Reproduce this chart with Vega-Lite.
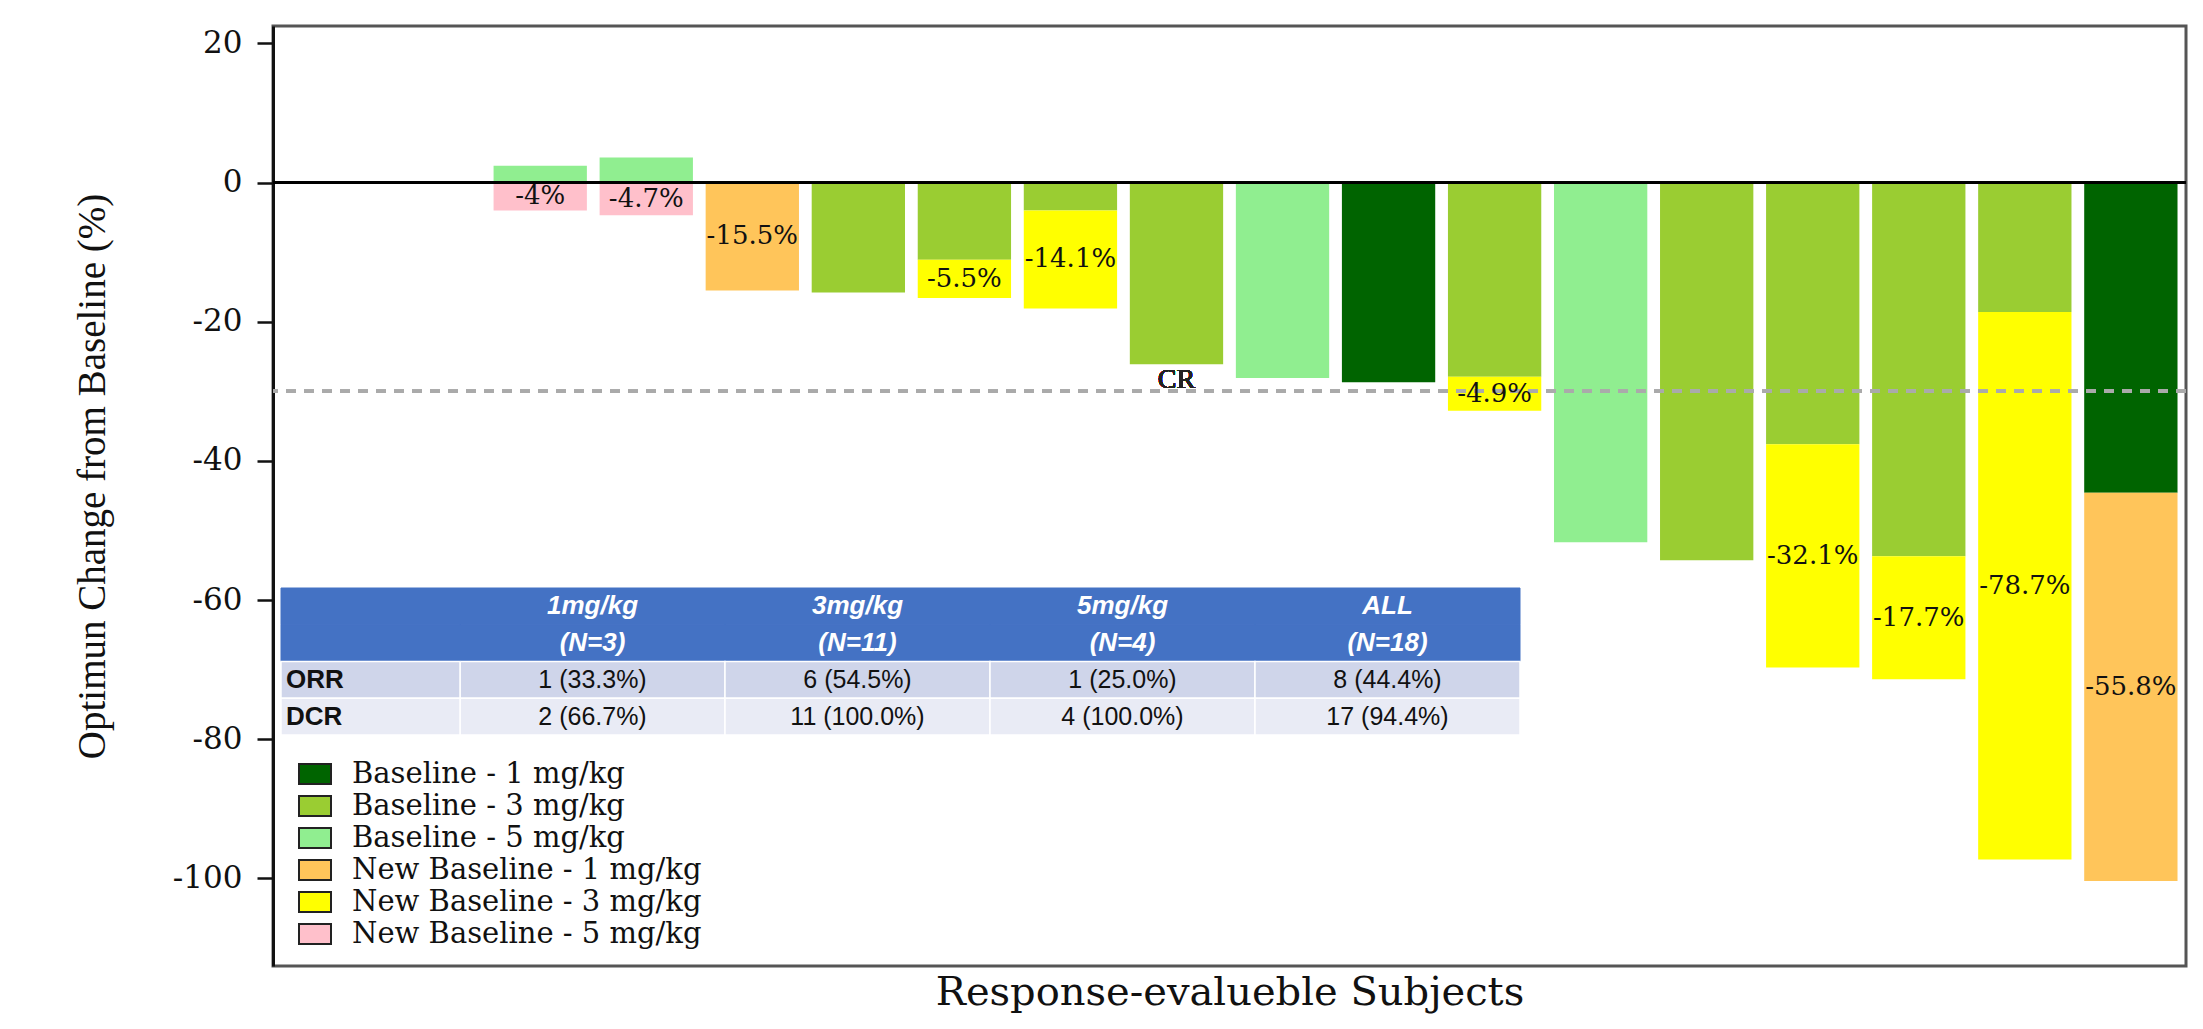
{
  "$schema": "https://vega.github.io/schema/vega-lite/v6.json",
  "width": 1913,
  "height": 940,
  "autosize": {"type": "none"},
  "padding": {"left": 273, "top": 26, "right": 17, "bottom": 63},
  "background": "white",
  "config": {"view": {"stroke": "#555", "strokeWidth": 3}},
  "datasets": {
    "bars": [
      {"subject": "S1", "series": "Baseline - 3 mg/kg", "value": 0, "label": ""},
      {"subject": "S2", "series": "Baseline - 3 mg/kg", "value": 0, "label": ""},
      {"subject": "S3", "series": "Baseline - 5 mg/kg", "value": 2.4, "label": ""},
      {"subject": "S3", "series": "New Baseline - 5 mg/kg", "value": -4.0, "label": "-4%"},
      {"subject": "S4", "series": "Baseline - 5 mg/kg", "value": 3.6, "label": ""},
      {"subject": "S4", "series": "New Baseline - 5 mg/kg", "value": -4.7, "label": "-4.7%"},
      {"subject": "S5", "series": "New Baseline - 1 mg/kg", "value": -15.5, "label": "-15.5%"},
      {"subject": "S6", "series": "Baseline - 3 mg/kg", "value": -15.8, "label": ""},
      {"subject": "S7", "series": "Baseline - 3 mg/kg", "value": -11.1, "label": ""},
      {"subject": "S7", "series": "New Baseline - 3 mg/kg", "value": -5.5, "label": "-5.5%"},
      {"subject": "S8", "series": "Baseline - 3 mg/kg", "value": -4.0, "label": ""},
      {"subject": "S8", "series": "New Baseline - 3 mg/kg", "value": -14.1, "label": "-14.1%"},
      {"subject": "S9", "series": "Baseline - 3 mg/kg", "value": -26.1, "label": ""},
      {"subject": "S10", "series": "Baseline - 5 mg/kg", "value": -28.1, "label": ""},
      {"subject": "S11", "series": "Baseline - 1 mg/kg", "value": -28.7, "label": ""},
      {"subject": "S12", "series": "Baseline - 3 mg/kg", "value": -27.9, "label": ""},
      {"subject": "S12", "series": "New Baseline - 3 mg/kg", "value": -4.9, "label": "-4.9%"},
      {"subject": "S13", "series": "Baseline - 5 mg/kg", "value": -51.7, "label": ""},
      {"subject": "S14", "series": "Baseline - 3 mg/kg", "value": -54.3, "label": ""},
      {"subject": "S15", "series": "Baseline - 3 mg/kg", "value": -37.6, "label": ""},
      {"subject": "S15", "series": "New Baseline - 3 mg/kg", "value": -32.1, "label": "-32.1%"},
      {"subject": "S16", "series": "Baseline - 3 mg/kg", "value": -53.7, "label": ""},
      {"subject": "S16", "series": "New Baseline - 3 mg/kg", "value": -17.7, "label": "-17.7%"},
      {"subject": "S17", "series": "Baseline - 3 mg/kg", "value": -18.6, "label": ""},
      {"subject": "S17", "series": "New Baseline - 3 mg/kg", "value": -78.7, "label": "-78.7%"},
      {"subject": "S18", "series": "Baseline - 1 mg/kg", "value": -44.6, "label": ""},
      {"subject": "S18", "series": "New Baseline - 1 mg/kg", "value": -55.8, "label": "-55.8%"}
    ],
    "table": [
      {"row": "h1", "col": "1mg/kg", "text": "1mg/kg"},
      {"row": "h1", "col": "3mg/kg", "text": "3mg/kg"},
      {"row": "h1", "col": "5mg/kg", "text": "5mg/kg"},
      {"row": "h1", "col": "ALL", "text": "ALL"},
      {"row": "h2", "col": "1mg/kg", "text": "(N=3)"},
      {"row": "h2", "col": "3mg/kg", "text": "(N=11)"},
      {"row": "h2", "col": "5mg/kg", "text": "(N=4)"},
      {"row": "h2", "col": "ALL", "text": "(N=18)"},
      {"row": "ORR", "col": "1mg/kg", "text": "1 (33.3%)"},
      {"row": "ORR", "col": "3mg/kg", "text": "6 (54.5%)"},
      {"row": "ORR", "col": "5mg/kg", "text": "1 (25.0%)"},
      {"row": "ORR", "col": "ALL", "text": "8 (44.4%)"},
      {"row": "DCR", "col": "1mg/kg", "text": "2 (66.7%)"},
      {"row": "DCR", "col": "3mg/kg", "text": "11 (100.0%)"},
      {"row": "DCR", "col": "5mg/kg", "text": "4 (100.0%)"},
      {"row": "DCR", "col": "ALL", "text": "17 (94.4%)"}
    ],
    "tableLabels": [
      {"row": "h1", "col": "label", "text": ""},
      {"row": "h2", "col": "label", "text": ""},
      {"row": "ORR", "col": "label", "text": "ORR"},
      {"row": "DCR", "col": "label", "text": "DCR"}
    ]
  },
  "layer": [
    {
      "data": {"name": "bars"},
      "layer": [
        {
          "mark": {"type": "bar"},
          "encoding": {
            "x": {
              "field": "subject", "type": "nominal", "sort": null,
              "scale": {"paddingInner": 0.12, "paddingOuter": 0.08},
              "axis": {"labels": false, "ticks": false, "domain": false, "grid": false,
                "title": "Response-evalueble Subjects", "titleFont": "DejaVu Serif", "titleFontSize": 40,
                "titleFontWeight": "normal", "titleColor": "#111", "titlePadding": 6}
            },
            "y": {
              "field": "value", "type": "quantitative", "stack": "zero",
              "scale": {"domain": [-112.6, 22.5], "nice": false, "zero": false},
              "axis": {"values": [20, 0, -20, -40, -60, -80, -100], "grid": false, "labelExpr": "'' + datum.value",
                "title": "Optimun Change from Baseline (%)", "titleFont": "Liberation Serif", "titleFontSize": 39,
                "titleFontWeight": "normal", "titleColor": "#111", "titlePadding": 60, "titleY": 450,
                "labelFont": "DejaVu Serif", "labelFontSize": 31, "labelColor": "#111", "labelPadding": 15,
                "tickSize": 16, "tickWidth": 2.5, "tickColor": "#111", "domainColor": "#111", "domainWidth": 3}
            },
            "color": {
              "field": "series", "type": "nominal",
              "scale": {
                "domain": ["Baseline - 1 mg/kg", "Baseline - 3 mg/kg", "Baseline - 5 mg/kg", "New Baseline - 1 mg/kg", "New Baseline - 3 mg/kg", "New Baseline - 5 mg/kg"],
                "range": ["#006400", "#9ACD32", "#90EE90", "#FFC55A", "#FFFF00", "#FFC0CB"]
              },
              "legend": {"orient": "none", "legendX": 25, "legendY": 731, "title": null,
                "symbolType": "M-1,-0.625H1V0.625H-1Z", "symbolSize": 1024, "symbolStrokeColor": "#222",
                "symbolStrokeWidth": 2, "symbolOpacity": 1, "labelFont": "DejaVu Serif", "labelFontSize": 29,
                "labelColor": "#111", "labelOffset": 20, "rowPadding": 0, "labelLimit": 600, "padding": 0}
            },
            "order": {"field": "series", "type": "nominal", "sort": "ascending"}
          }
        },
        {
          "mark": {"type": "rule", "stroke": "#aaaaaa", "strokeWidth": 3, "strokeDash": [10, 8]},
          "encoding": {"y": {"datum": -30, "type": "quantitative"}}
        },
        {
          "mark": {"type": "rule", "stroke": "#000", "strokeWidth": 3},
          "encoding": {"y": {"datum": 0, "type": "quantitative"}}
        },
        {
          "mark": {"type": "text", "font": "DejaVu Serif", "fontSize": 26, "color": "#111", "baseline": "middle"},
          "encoding": {
            "x": {"field": "subject", "type": "nominal", "sort": null},
            "y": {"field": "value", "type": "quantitative", "stack": "zero", "bandPosition": 0.5},
            "detail": {"field": "series", "type": "nominal"},
            "order": {"field": "series", "type": "nominal", "sort": "ascending"},
            "text": {"field": "label", "type": "nominal"}
          }
        },
        {
          "mark": {"type": "text", "font": "Liberation Serif", "fontSize": 28, "color": "#222", "baseline": "middle"},
          "encoding": {
            "x": {"datum": "S9", "type": "nominal"},
            "y": {"datum": -28.4, "type": "quantitative"},
            "text": {"value": "CR"}
          }
        }
      ]
    },
    {
      "layer": [
        {
          "data": {"name": "table"},
          "layer": [
            {
              "transform": [{"filter": {"field": "row", "oneOf": ["h1", "h2"]}}],
              "mark": {"type": "rect", "fill": "#4472C4", "stroke": "#4472C4", "strokeWidth": 1},
              "encoding": {
                "x": {"field": "col", "type": "nominal", "axis": null,
                  "scale": {"type": "band", "domain": ["1mg/kg", "3mg/kg", "5mg/kg", "ALL"], "range": [187, 1247], "paddingInner": 0, "paddingOuter": 0}},
                "y": {"field": "row", "type": "nominal", "axis": null,
                  "scale": {"type": "band", "domain": ["h1", "h2", "ORR", "DCR"], "range": [562, 709], "paddingInner": 0, "paddingOuter": 0}}
              }
            },
            {
              "transform": [{"filter": {"field": "row", "oneOf": ["ORR", "DCR"]}}],
              "mark": {"type": "rect", "stroke": "white", "strokeWidth": 1.5},
              "encoding": {
                "x": {"field": "col", "type": "nominal", "axis": null},
                "y": {"field": "row", "type": "nominal", "axis": null},
                "fill": {"field": "row", "type": "nominal", "legend": null,
                  "scale": {"domain": ["ORR", "DCR"], "range": ["#CFD5EA", "#E9EBF5"]}}
              }
            },
            {
              "transform": [{"filter": {"field": "row", "oneOf": ["h1", "h2"]}}],
              "mark": {"type": "text", "font": "Liberation Sans", "fontSize": 26, "fontStyle": "italic", "fontWeight": "bold", "color": "white", "baseline": "middle"},
              "encoding": {
                "x": {"field": "col", "type": "nominal", "axis": null},
                "y": {"field": "row", "type": "nominal", "axis": null},
                "text": {"field": "text", "type": "nominal"}
              }
            },
            {
              "transform": [{"filter": {"field": "row", "oneOf": ["ORR", "DCR"]}}],
              "mark": {"type": "text", "font": "Liberation Sans", "fontSize": 25, "color": "#111", "baseline": "middle"},
              "encoding": {
                "x": {"field": "col", "type": "nominal", "axis": null},
                "y": {"field": "row", "type": "nominal", "axis": null},
                "text": {"field": "text", "type": "nominal"}
              }
            }
          ]
        },
        {
          "data": {"name": "tableLabels"},
          "layer": [
            {
              "transform": [{"filter": {"field": "row", "oneOf": ["h1", "h2"]}}],
              "mark": {"type": "rect", "fill": "#4472C4", "stroke": "#4472C4", "strokeWidth": 1},
              "encoding": {
                "x": {"field": "col", "type": "nominal", "axis": null,
                  "scale": {"type": "band", "domain": ["label"], "range": [8, 187], "paddingInner": 0, "paddingOuter": 0}},
                "y": {"field": "row", "type": "nominal", "axis": null}
              }
            },
            {
              "transform": [{"filter": {"field": "row", "oneOf": ["ORR", "DCR"]}}],
              "mark": {"type": "rect", "stroke": "white", "strokeWidth": 1.5},
              "encoding": {
                "x": {"field": "col", "type": "nominal", "axis": null},
                "y": {"field": "row", "type": "nominal", "axis": null},
                "fill": {"field": "row", "type": "nominal", "legend": null}
              }
            },
            {
              "transform": [{"filter": {"field": "row", "oneOf": ["ORR", "DCR"]}}],
              "mark": {"type": "text", "font": "Liberation Sans", "fontSize": 26, "fontWeight": "bold", "color": "#111", "baseline": "middle", "align": "left", "dx": 5},
              "encoding": {
                "x": {"field": "col", "type": "nominal", "axis": null, "bandPosition": 0},
                "y": {"field": "row", "type": "nominal", "axis": null},
                "text": {"field": "text", "type": "nominal"}
              }
            }
          ]
        }
      ],
      "resolve": {"scale": {"x": "independent"}}
    }
  ],
  "resolve": {"scale": {"x": "independent", "y": "independent", "fill": "independent"}}
}
